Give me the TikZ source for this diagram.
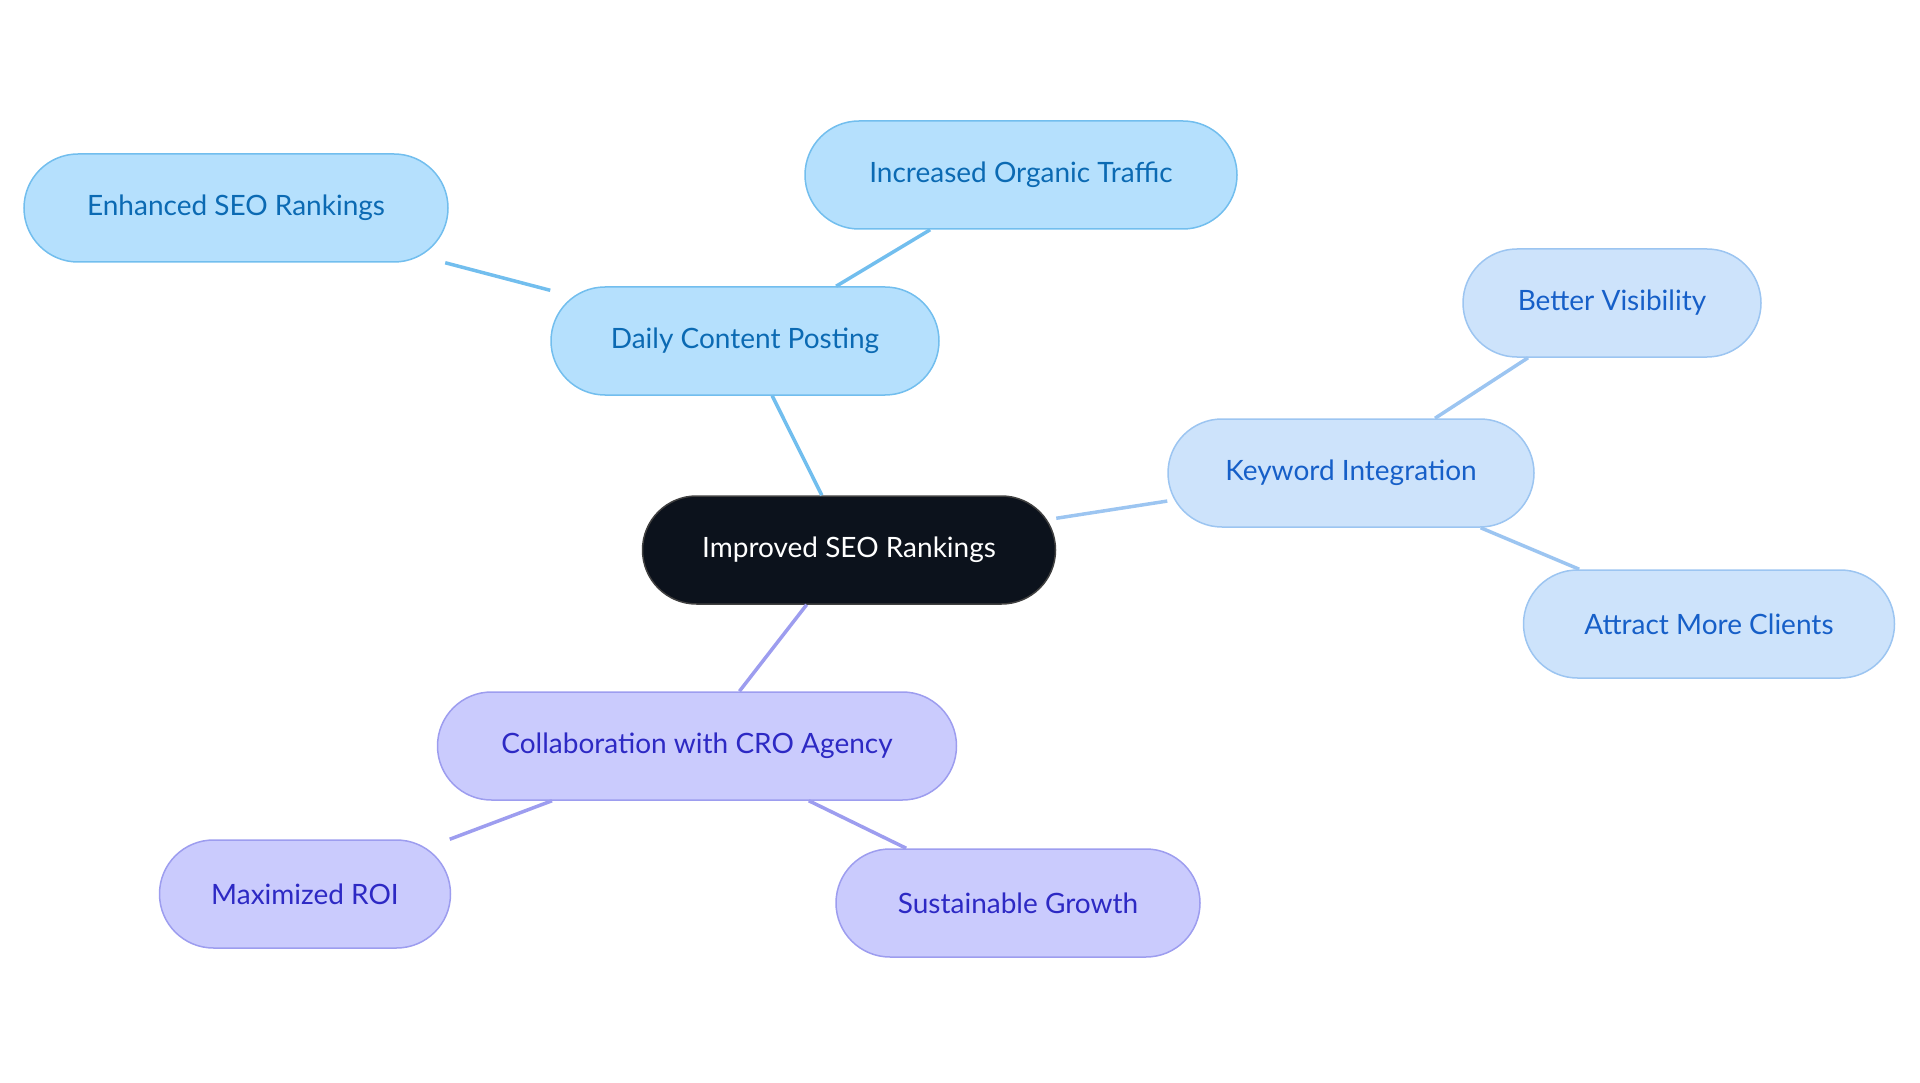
\documentclass[tikz,border=0pt]{standalone}
\usepackage{fontspec}
\setmainfont{Lato}
\definecolor{rootfill}{HTML}{0C121C}
\definecolor{bluefill}{HTML}{B5E0FD}
\definecolor{blueline}{HTML}{72BEEE}
\definecolor{bluetext}{HTML}{0B6AB3}
\definecolor{skyfill}{HTML}{CDE3FB}
\definecolor{skyline}{HTML}{9CC5F1}
\definecolor{skytext}{HTML}{165FC8}
\definecolor{lilacfill}{HTML}{CACBFD}
\definecolor{lilacline}{HTML}{9D9DEF}
\definecolor{lilactext}{HTML}{2D29C4}
\tikzset{
  bubble/.style={rounded corners=54pt, minimum height=108pt, inner sep=0pt,
    line width=1.5pt, font=\fontsize{28}{34}\selectfont},
  rootbox/.style={bubble, fill=rootfill, draw=black!75, text=white},
  bluebox/.style={bubble, fill=bluefill, draw=blueline, text=bluetext},
  skybox/.style={bubble, fill=skyfill, draw=skyline, text=skytext},
  lilacbox/.style={bubble, fill=lilacfill, draw=lilacline, text=lilactext},
  link/.style={line width=3.5pt}
}
\begin{document}
\begin{tikzpicture}[x=1pt,y=-1pt]
  \useasboundingbox (0,0) rectangle (1920,1083);
  % nodes
  \node[rootbox, minimum width=413pt] (root) at (849,550) {Improved SEO Rankings};
  \node[bluebox, minimum width=388pt] (daily) at (745,341) {Daily Content Posting};
  \node[bluebox, minimum width=432pt] (traffic) at (1021,175) {Increased Organic Traffic};
  \node[bluebox, minimum width=424pt] (enhanced) at (236,208) {Enhanced SEO Rankings};
  \node[skybox, minimum width=366pt] (keyword) at (1351,473) {Keyword Integration};
  \node[skybox, minimum width=298pt] (visible) at (1612,303) {Better Visibility};
  \node[skybox, minimum width=371pt] (clients) at (1709,624) {Attract More Clients};
  \node[lilacbox, minimum width=519pt] (collab) at (697,746) {Collaboration with CRO Agency};
  \node[lilacbox, minimum width=291pt] (roi) at (305,894) {Maximized ROI};
  \node[lilacbox, minimum width=364pt] (growth) at (1018,903) {Sustainable Growth};
  % links
  \draw[link, blueline] (root) -- (daily);
  \draw[link, blueline] (daily) -- (traffic);
  \draw[link, blueline] (daily) -- (enhanced);
  \draw[link, skyline] (root) -- (keyword);
  \draw[link, skyline] (keyword) -- (visible);
  \draw[link, skyline] (keyword) -- (clients);
  \draw[link, lilacline] (root) -- (collab);
  \draw[link, lilacline] (collab) -- (roi);
  \draw[link, lilacline] (collab) -- (growth);
\end{tikzpicture}
\end{document}
